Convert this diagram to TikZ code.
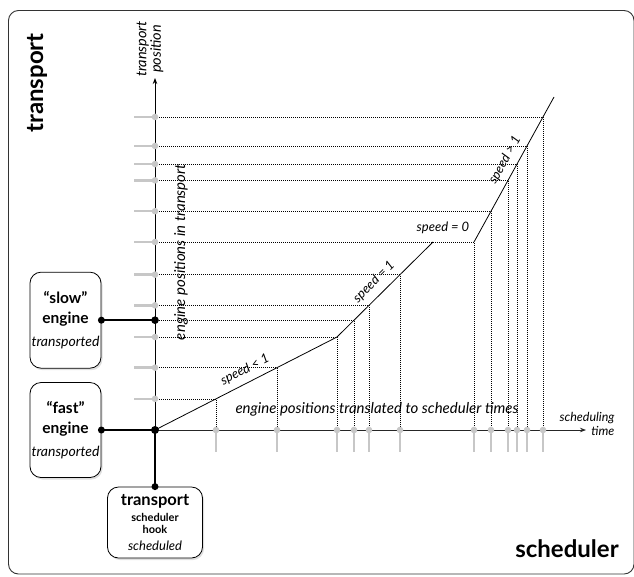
\documentclass[tikz,border=0pt]{standalone}
\usepackage{fontspec}
\setmainfont{Lato}
\usetikzlibrary{calc,arrows.meta,shadows}
\begin{document}
\begin{tikzpicture}[x=1pt,y=-1pt,
  box/.style={draw, line width=0.8pt, rounded corners=11pt, fill=white,
    drop shadow={opacity=0.25,shadow xshift=1.5pt,shadow yshift=-2pt},
    align=center, inner sep=0pt},
  dotl/.style={line width=0.6pt, dash pattern=on 0.7pt off 1.3pt},
  gtick/.style={draw=black!22, line width=2.4pt},
  gdot/.style={fill=black!22},
  conn/.style={line width=1.8pt},
  curve/.style={line width=0.8pt},
  lbl/.style={font=\fontsize{12.5}{13.5}\selectfont\itshape},
  ylbl/.style={font=\fontsize{14.5}{14.5}\selectfont\itshape},
  spd/.style={font=\fontsize{13}{15}\selectfont\itshape},
  mid/.style={font=\fontsize{15}{17}\selectfont\itshape},
  big/.style={font=\fontsize{24}{26}\selectfont\bfseries},
]
\useasboundingbox (0,0) rectangle (634,576);
\draw[line width=0.9pt, black!80, rounded corners=10pt] (8.5,10.5) rectangle (634,574);

% key points
\coordinate (O) at (155,430);
\coordinate (B1) at (337,337);
\coordinate (B2) at (433,242);
\coordinate (B3) at (474,242);
\coordinate (E) at (554,97);
\coordinate (ytop) at (155,78);
\coordinate (xend) at (586,430);
\coordinate (p1) at ($(O)!61/182!(B1)$);
\coordinate (p2) at ($(O)!122/182!(B1)$);
\coordinate (p3) at (B1);
\coordinate (p4) at ($(B1)!17/96!(B2)$);
\coordinate (p5) at ($(B1)!32/96!(B2)$);
\coordinate (p6) at ($(B1)!63/96!(B2)$);
\coordinate (p7) at (B3);
\coordinate (p8) at ($(B3)!17/80!(E)$);
\coordinate (p9) at ($(B3)!34/80!(E)$);
\coordinate (p10) at ($(B3)!43/80!(E)$);
\coordinate (p11) at ($(B3)!53/80!(E)$);
\coordinate (p12) at ($(B3)!69/80!(E)$);
\foreach \i in {1,...,12} {
  \coordinate (ya\i) at (O |- p\i);
  \coordinate (xa\i) at (p\i |- O);
}

% dotted projections
\foreach \i in {1,...,12} \draw[dotl] (ya\i) -- (p\i) -- (xa\i);

% axes
\draw[line width=0.9pt, -{Stealth[length=6pt,width=4.5pt]}] (O) -- (ytop);
\draw[line width=0.8pt, black!85, -{Stealth[length=6pt,width=4.5pt]}] (O) -- (xend);

% gray ticks
\foreach \i in {1,2,3,5,6,7,8,9,10,11,12} {
  \draw[gtick] (ya\i) -- ++(-21,0);
  \fill[gdot] (ya\i) circle (3.3);
}
\foreach \i in {1,...,12} {
  \draw[gtick] (xa\i) -- ++(0,22);
  \fill[gdot] (xa\i) circle (3.3);
}

% curve
\draw[curve] (O) -- (B1) -- (B2);
\draw[curve] (B3) -- (E);

% boxes
\node[box, minimum width=71, minimum height=96,
  font=\fontsize{15.5}{20}\selectfont\bfseries] (slow) at (65.5,0 |- p4)
  {“slow”\\engine\\[3pt]{\fontsize{14}{15}\selectfont\mdseries\itshape transported}};
\node[box, minimum width=71, minimum height=95,
  font=\fontsize{15.5}{20}\selectfont\bfseries] (fast) at (65.5,0 |- O)
  {“fast”\\engine\\[3pt]{\fontsize{14}{15}\selectfont\mdseries\itshape transported}};
\node[box, minimum width=95, minimum height=71,
  font=\fontsize{16.5}{16}\selectfont\bfseries] (hook) at (O |- 0,522.5)
  {transport\\[0pt]{\fontsize{11}{12}\selectfont scheduler}\\[-4pt]{\fontsize{11}{12}\selectfont hook}\\[1pt]{\fontsize{13}{14}\selectfont\mdseries\itshape scheduled}};

% connectors
\draw[conn] (slow.east) -- (ya4);
\draw[conn] (fast.east) -- (O);
\draw[conn] (O) -- (hook.north);
\fill (slow.east) circle (3.5);
\fill (ya4) circle (3.8);
\fill (fast.east) circle (3.5);
\fill (O) circle (4);
\fill (hook.north) circle (3.5);

% labels
\node[big, rotate=90] (ttl) at (37,83) {transport};
\node[big] (stl) at (567,549) {scheduler};
\node[ylbl, rotate=90, align=center] (yl) at (150,49) {transport\\position};
\node[lbl, align=right, anchor=east] (xl) at (618,424) {scheduling\\time};
\node[mid, rotate=90] (ep) at (181,252) {engine positions in transport};
\node[mid] (et) at (377,409) {engine positions translated to scheduler times};
\node[spd, rotate=27] (s1) at (245,370) {speed < 1};
\node[spd, rotate=45] (s2) at (374,282) {speed = 1};
\node[spd] (s3) at (443,228) {speed = 0};
\node[spd, rotate=61] (s4) at (505,160) {speed > 1};
\end{tikzpicture}
\end{document}
